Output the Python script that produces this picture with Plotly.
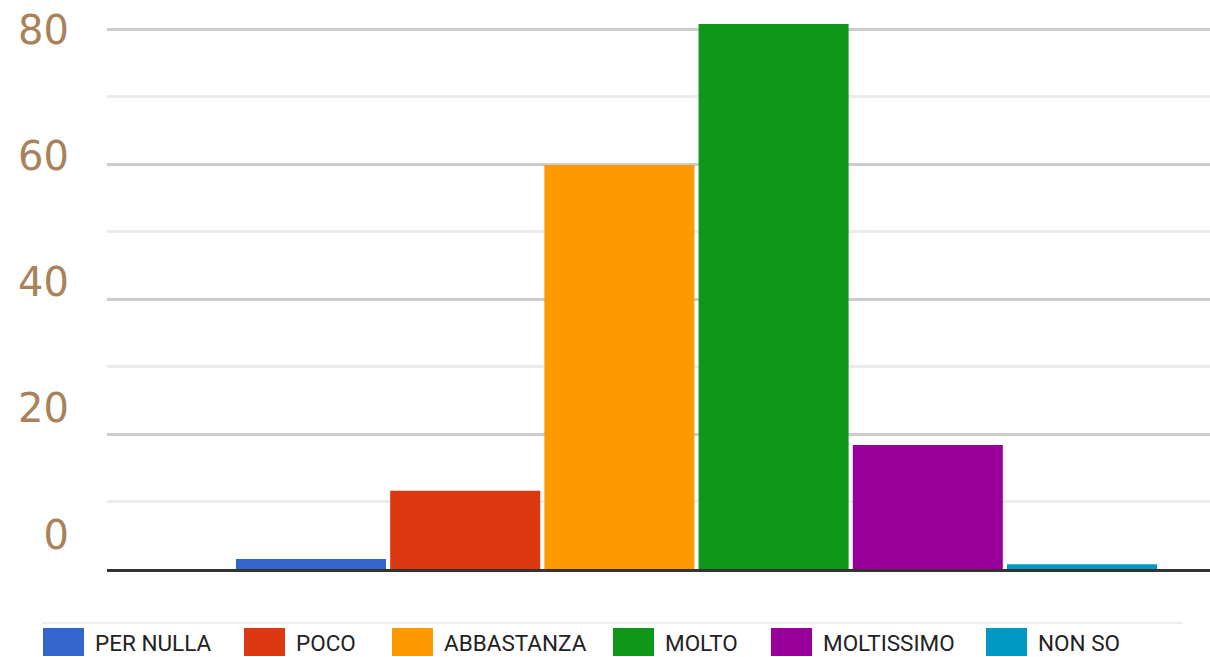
import plotly.graph_objects as go

# answers to the survey question
categories = ["PER NULLA", "POCO", "ABBASTANZA", "MOLTO", "MOLTISSIMO", "NON SO"]
values = [1.5, 11.6, 59.9, 80.8, 18.4, 0.7]
colors = ["#3366cc", "#dc3912", "#ff9900", "#109618", "#990099", "#0099c6"]
y_ticks = [0, 20, 40, 60, 80]

W, H = 1210, 657
L, B = 107, 88
plot_w, plot_h = W - L, H - B

fig = go.Figure()
for name, val, col in zip(categories, values, colors):
    fig.add_trace(go.Bar(x=[0], y=[val], name=name, marker=dict(color=col, line=dict(width=0)),
                         showlegend=False))

# invisible trace so the label axis gets drawn
fig.add_trace(go.Scatter(x=[None], y=[None], yaxis="y2", showlegend=False, hoverinfo="skip"))

# legend drawn by hand (big square swatches)
legend_x = [43, 244, 392, 613, 771, 986]
shapes = [dict(type="line", xref="paper", yref="paper",
               x0=(42 - L) / plot_w, x1=(1183 - L) / plot_w,
               y0=(plot_h - 623) / plot_h, y1=(plot_h - 623) / plot_h,
               line=dict(color="#eeeeee", width=2))]
annotations = []
for name, col, px in zip(categories, colors, legend_x):
    shapes.append(dict(type="rect", xref="paper", yref="paper",
                       x0=(px - L) / plot_w, x1=(px + 41 - L) / plot_w,
                       y0=(plot_h - 656) / plot_h, y1=(plot_h - 628) / plot_h,
                       fillcolor=col, line=dict(width=0)))
    annotations.append(dict(text=name, xref="paper", yref="paper",
                            x=(px + 50 - L) / plot_w, y=(plot_h - 642.5) / plot_h,
                            xanchor="left", yanchor="middle", showarrow=False,
                            font=dict(family="Roboto", size=22.5, color="#222222")))

fig.update_layout(
    width=W, height=H,
    margin=dict(l=L, r=0, t=0, b=B),
    paper_bgcolor="white", plot_bgcolor="white",
    barmode="group", bargap=0.2, bargroupgap=0.027,
    xaxis=dict(range=[-0.5097, 0.4440], showticklabels=False, showgrid=False, zeroline=False,
               showline=True, linecolor="#333333", linewidth=3, fixedrange=True),
    yaxis=dict(range=[0, 84.37], tickvals=y_ticks[1:], showticklabels=False,
               showgrid=True, gridcolor="#cccccc", gridwidth=3, zeroline=False,
               minor=dict(tickvals=[10, 30, 50, 70], showgrid=True, gridcolor="#ebebeb", gridwidth=3)),
    yaxis2=dict(range=[-5.465, 84.673], overlaying="y", side="left", tickvals=y_ticks,
                showgrid=False, zeroline=False, showline=False, ticks="",
                ticklabelstandoff=37,
                tickfont=dict(family="DejaVu Sans", size=40, color="#a9825a")),
    shapes=shapes,
    annotations=annotations,
)

# page has a default 8px body margin, drop it so the figure sits at 0,0
fig.write_html("out.html", config={"displayModeBar": False},
               post_script="document.body.style.margin='0';")
